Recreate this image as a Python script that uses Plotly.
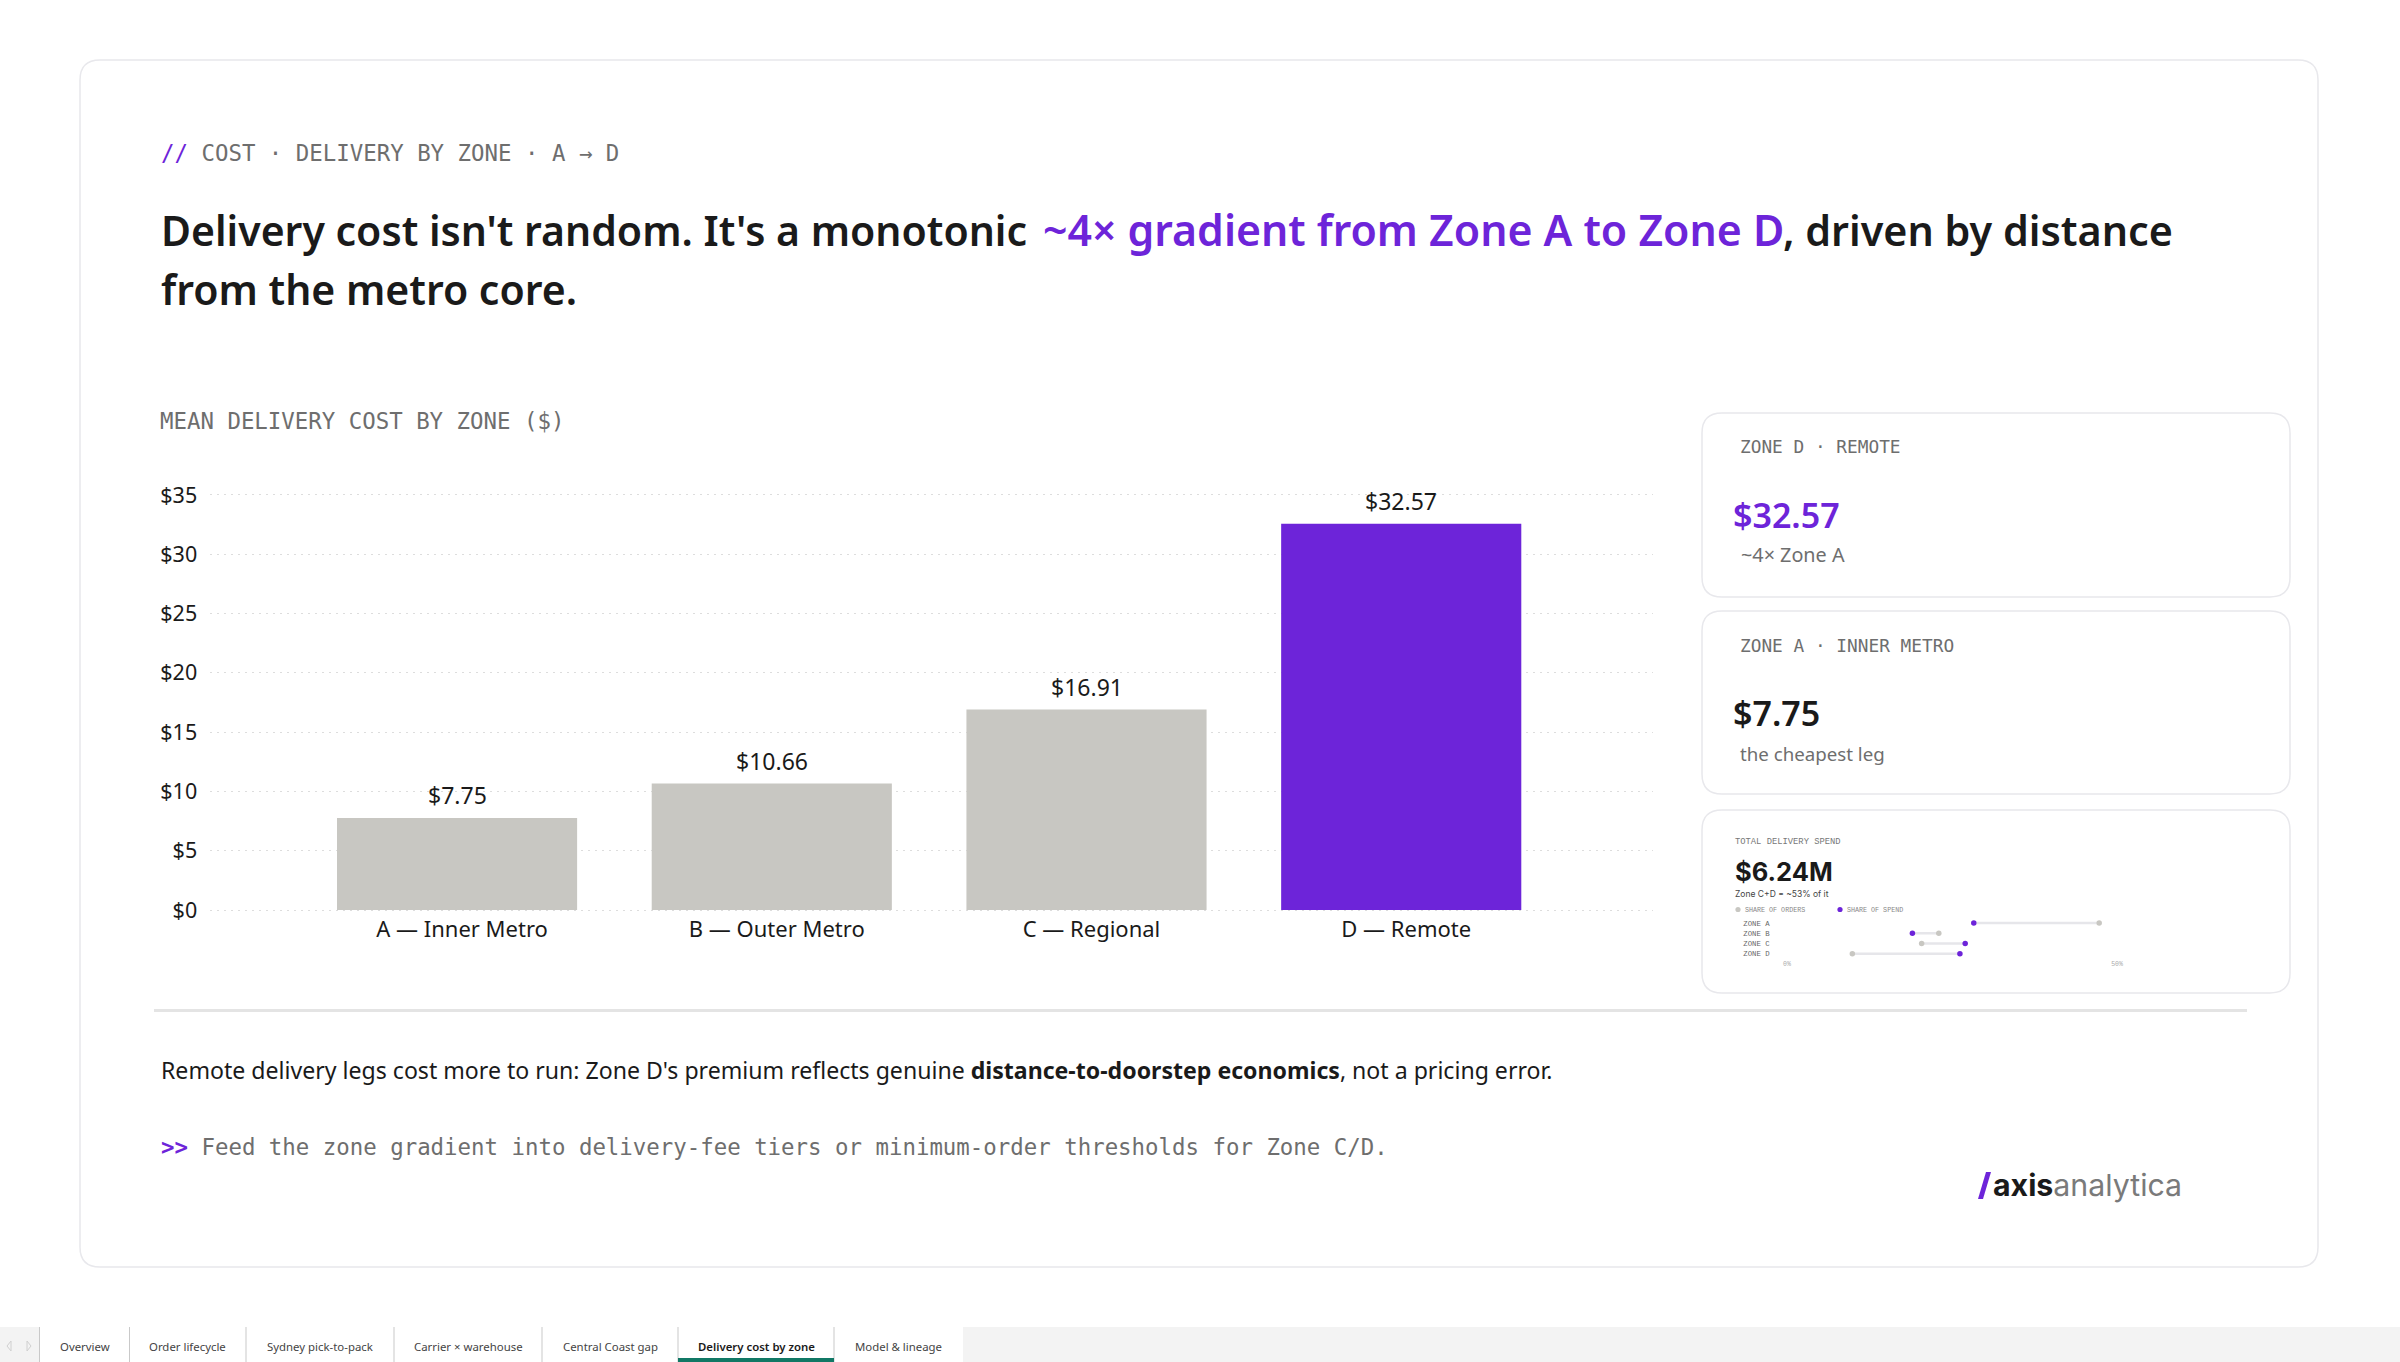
#!/usr/bin/env python3

import plotly.graph_objects as go

W = 2400
H = 1362

PURPLE = "#6d24d9"
GREY_BAR = "#c8c7c2"
INK = "#1a1a1a"
MUTED = "#6e6e6e"
BORDER = "#e8e8ec"
UI = "Noto Sans"
MONO = "DejaVu Sans Mono"
LOGO = "Inter"

# main chart data
zones = ["A — Inner Metro", "B — Outer Metro", "C — Regional", "D — Remote"]
mean_cost = [7.75, 10.66, 16.91, 32.57]
cost_ticks = [0, 5, 10, 15, 20, 25, 30, 35]

# mini dumbbell data (card 3)
mini_zones = ["ZONE A", "ZONE B", "ZONE C", "ZONE D"]
share_orders = [47.3, 23.0, 20.4, 9.9]
share_spend = [28.3, 19.0, 27.0, 26.2]
mini_ticks = [0, 50]

tabs = ["Overview", "Order lifecycle", "Sydney pick-to-pack", "Carrier × warehouse",
        "Central Coast gap", "Delivery cost by zone", "Model & lineage"]
tab_edges = [39.5, 129.5, 246, 394, 542, 678, 834, 963]
active_tab = 5


def xp(x):
    return x / W


def yp(y):
    return 1 - y / H


def label(text, x, y, size, color=INK, font=UI, anchor="left", weight=None):
    return dict(text=text, x=xp(x), y=yp(y), xref="paper", yref="paper", showarrow=False,
                xanchor=anchor, yanchor="middle", borderpad=0, borderwidth=0,
                font=dict(family=font, size=size, color=color, weight=weight))


def round_rect(x0, y0, x1, y1, r, line=BORDER, fill="#ffffff", width=1.5):
    pts = [
        f"M{xp(x0 + r)},{yp(y0)}", f"L{xp(x1 - r)},{yp(y0)}",
        f"Q{xp(x1)},{yp(y0)} {xp(x1)},{yp(y0 + r)}", f"L{xp(x1)},{yp(y1 - r)}",
        f"Q{xp(x1)},{yp(y1)} {xp(x1 - r)},{yp(y1)}", f"L{xp(x0 + r)},{yp(y1)}",
        f"Q{xp(x0)},{yp(y1)} {xp(x0)},{yp(y1 - r)}", f"L{xp(x0)},{yp(y0 + r)}",
        f"Q{xp(x0)},{yp(y0)} {xp(x0 + r)},{yp(y0)}", "Z",
    ]
    return dict(type="path", path=" ".join(pts), xref="paper", yref="paper", layer="below",
                line=dict(color=line, width=width), fillcolor=fill)


def box(x0, y0, x1, y1, fill, layer="below"):
    return dict(type="rect", x0=xp(x0), x1=xp(x1), y0=yp(y0), y1=yp(y1), xref="paper", yref="paper",
                layer=layer, line=dict(width=0), fillcolor=fill)


def vline(x, y0, y1, color="#c9c9c9", width=1):
    return dict(type="line", x0=xp(x), x1=xp(x), y0=yp(y0), y1=yp(y1), xref="paper", yref="paper",
                layer="below", line=dict(color=color, width=width))


def dot(x, y, r, color):
    return dict(type="circle", x0=xp(x - r), x1=xp(x + r), y0=yp(y - r), y1=yp(y + r), xref="paper",
                yref="paper", line=dict(width=0), fillcolor=color)


def build_shapes():
    shapes = [
        round_rect(80, 60, 2318, 1267, 20),
        round_rect(1702, 413, 2290, 597, 20),
        round_rect(1702, 611, 2290, 794, 20),
        round_rect(1702, 810, 2290, 993, 20),
        box(154, 1009, 2247, 1012, "#e4e4e4"),
        box(0, 1327, W, H, "#f3f3f3"),
        box(tab_edges[0], 1327, tab_edges[-1], H, "#ffffff"),
        box(tab_edges[active_tab], 1358, tab_edges[active_tab + 1], H, "#117865", layer="above"),
        dot(1738, 909.5, 2.6, GREY_BAR),
        dot(1840, 909.5, 2.6, PURPLE),
    ]
    for edge in tab_edges[:-1]:
        shapes.append(vline(edge, 1327, H))
    # logo slash
    shapes.append(dict(type="path", xref="paper", yref="paper", fillcolor=PURPLE, line=dict(width=0),
                       path=f"M{xp(1986)},{yp(1172)} L{xp(1991)},{yp(1172)} L{xp(1983)},{yp(1199)} L{xp(1978)},{yp(1199)} Z"))
    # tab nav arrows
    for px, tip in [(11, 7), (27, 31)]:
        shapes.append(dict(type="path", xref="paper", yref="paper", line=dict(color="#d0d0d0", width=1),
                           path=f"M{xp(px)},{yp(1341)} L{xp(tip)},{yp(1346)} L{xp(px)},{yp(1351)} Z"))
    return shapes


def build_annotations():
    notes = [
        label(f'<span style="color:{PURPLE}">//</span> COST · DELIVERY BY ZONE · A → D', 161, 153, 22.4, MUTED, MONO),
        # headline split in three so the purple run lines up
        label("Delivery cost isn't random. It's a monotonic", 161, 229.5, 41, INK, UI, weight=600),
        label("~4× gradient from Zone A to Zone D", 1043, 229.5, 42.8, PURPLE, UI, weight=600),
        label(", driven by distance", 1783, 229.5, 41.3, INK, UI, weight=600),
        label("from the metro core.", 161, 288.5, 41, INK, UI, weight=600),
        label("MEAN DELIVERY COST BY ZONE ($)", 160, 421, 22.4, MUTED, MONO),
        label("ZONE D · REMOTE", 1740, 446, 17.8, MUTED, MONO),
        label("$32.57", 1733, 515, 34, PURPLE, UI, weight=600),
        label("~4× Zone A", 1741, 554, 19.8, MUTED),
        label("ZONE A · INNER METRO", 1740, 645, 17.8, MUTED, MONO),
        label("$7.75", 1733, 713, 34, INK, UI, weight=600),
        label("the cheapest leg", 1740, 753, 18.7, MUTED),
        label("TOTAL DELIVERY SPEND", 1735, 842, 8.8, "#777777", "Liberation Mono"),
        label("$6.24M", 1735, 871.5, 25.5, INK, LOGO, weight=700),
        label("Zone C+D = ~53% of it", 1735, 894, 8.5, "#444444", LOGO),
        label("SHARE OF ORDERS", 1745, 910, 6.7, "#888888", "Liberation Mono"),
        label("SHARE OF SPEND", 1847, 910, 6.7, "#888888", "Liberation Mono"),
        label("Remote delivery legs cost more to run: Zone D's premium reflects genuine <b>distance-to-doorstep economics</b>, not a pricing error.",
              161, 1070, 23.1, INK),
        label(f'<span style="color:{PURPLE}"><b>&gt;&gt;</b></span> Feed the zone gradient into delivery-fee tiers or minimum-order thresholds for Zone C/D.',
              161, 1147, 22.4, MUTED, MONO),
        label(f'<b>axis</b><span style="color:#7a7a7a">analytica</span>', 1993, 1185, 30.3, INK, LOGO),
    ]
    for i, tab in enumerate(tabs):
        centre = (tab_edges[i] + tab_edges[i + 1]) / 2
        notes.append(label(tab, centre, 1346, 11.4, INK if i == active_tab else "#444444", UI, "center",
                           600 if i == active_tab else None))
    # value labels sit on the bars, through the chart's own axes
    for zone, cost in zip(zones, mean_cost):
        notes.append(dict(text=f"${cost:.2f}", x=zone, y=cost, xref="x", yref="y", showarrow=False,
                          xanchor="center", yanchor="bottom", yshift=6, borderpad=0,
                          font=dict(family=UI, size=23, color=INK)))
    return notes


def main():
    fig = go.Figure()

    colors = [GREY_BAR, GREY_BAR, GREY_BAR, PURPLE]
    fig.add_trace(go.Bar(x=zones, y=mean_cost, width=0.763, marker=dict(color=colors, line=dict(width=0)),
                         showlegend=False))

    for name, o, s in zip(mini_zones, share_orders, share_spend):
        fig.add_trace(go.Scatter(x=[o, s], y=[name, name], mode="lines", xaxis="x2", yaxis="y2",
                                 line=dict(color="#e6e6ea", width=2.5), showlegend=False))
    fig.add_trace(go.Scatter(x=share_orders, y=mini_zones, mode="markers", xaxis="x2", yaxis="y2",
                             marker=dict(color=GREY_BAR, size=5.5), name="Share of orders", showlegend=False))
    fig.add_trace(go.Scatter(x=share_spend, y=mini_zones, mode="markers", xaxis="x2", yaxis="y2",
                             marker=dict(color=PURPLE, size=5.5), name="Share of spend", showlegend=False))

    fig.update_layout(
        width=W, height=H, margin=dict(l=0, r=0, t=0, b=0, pad=0, autoexpand=False), autosize=False,
        paper_bgcolor="#ffffff", plot_bgcolor="rgba(0,0,0,0)", showlegend=False,
        shapes=build_shapes(), annotations=build_annotations(),
        xaxis=dict(domain=[xp(210), xp(1653)], range=[-0.785, 3.8], type="category", showgrid=False,
                   zeroline=False, showline=False, ticks="outside", ticklen=1, tickcolor="rgba(0,0,0,0)",
                   ticklabelshift=5, ticklabelstandoff=-3, tickfont=dict(family=UI, size=22, color=INK)),
        # range runs a hair past 0 and 35 so plotly keeps the gridlines on the ends
        yaxis=dict(domain=[yp(911.2), yp(493.8)], range=[-0.1, 35.1], tickmode="array", tickvals=cost_ticks,
                   ticktext=[f"${v}" for v in cost_ticks],
                   showgrid=True, griddash="1.5px,5.5px", gridcolor="#dddddd", gridwidth=1, zeroline=False,
                   showline=False, ticks="outside", ticklen=7.5, tickcolor="rgba(0,0,0,0)",
                   tickfont=dict(family=UI, size=21.5, color=INK)),
        xaxis2=dict(domain=[xp(1787), xp(2117)], range=[0, 50], anchor="y2", tickmode="array", tickvals=mini_ticks,
                    ticktext=[f"{v}%" for v in mini_ticks], showgrid=False, zeroline=False, showline=False, ticks="",
                    tickfont=dict(family="Liberation Mono", size=6.5, color="#aaaaaa")),
        yaxis2=dict(domain=[yp(958.8), yp(918)], range=[3.5, -0.5], type="category", anchor="x2",
                    categoryorder="array", categoryarray=mini_zones, showgrid=False, zeroline=False,
                    showline=False, ticks="outside", ticklen=15, tickcolor="rgba(0,0,0,0)",
                    tickfont=dict(family="Liberation Mono", size=7.3, color="#666666")),
    )

    fig.write_html("out.html", config={"displayModeBar": False},
                   post_script="document.body.style.margin='0';document.body.style.overflow='hidden';")


if __name__ == "__main__":
    main()
